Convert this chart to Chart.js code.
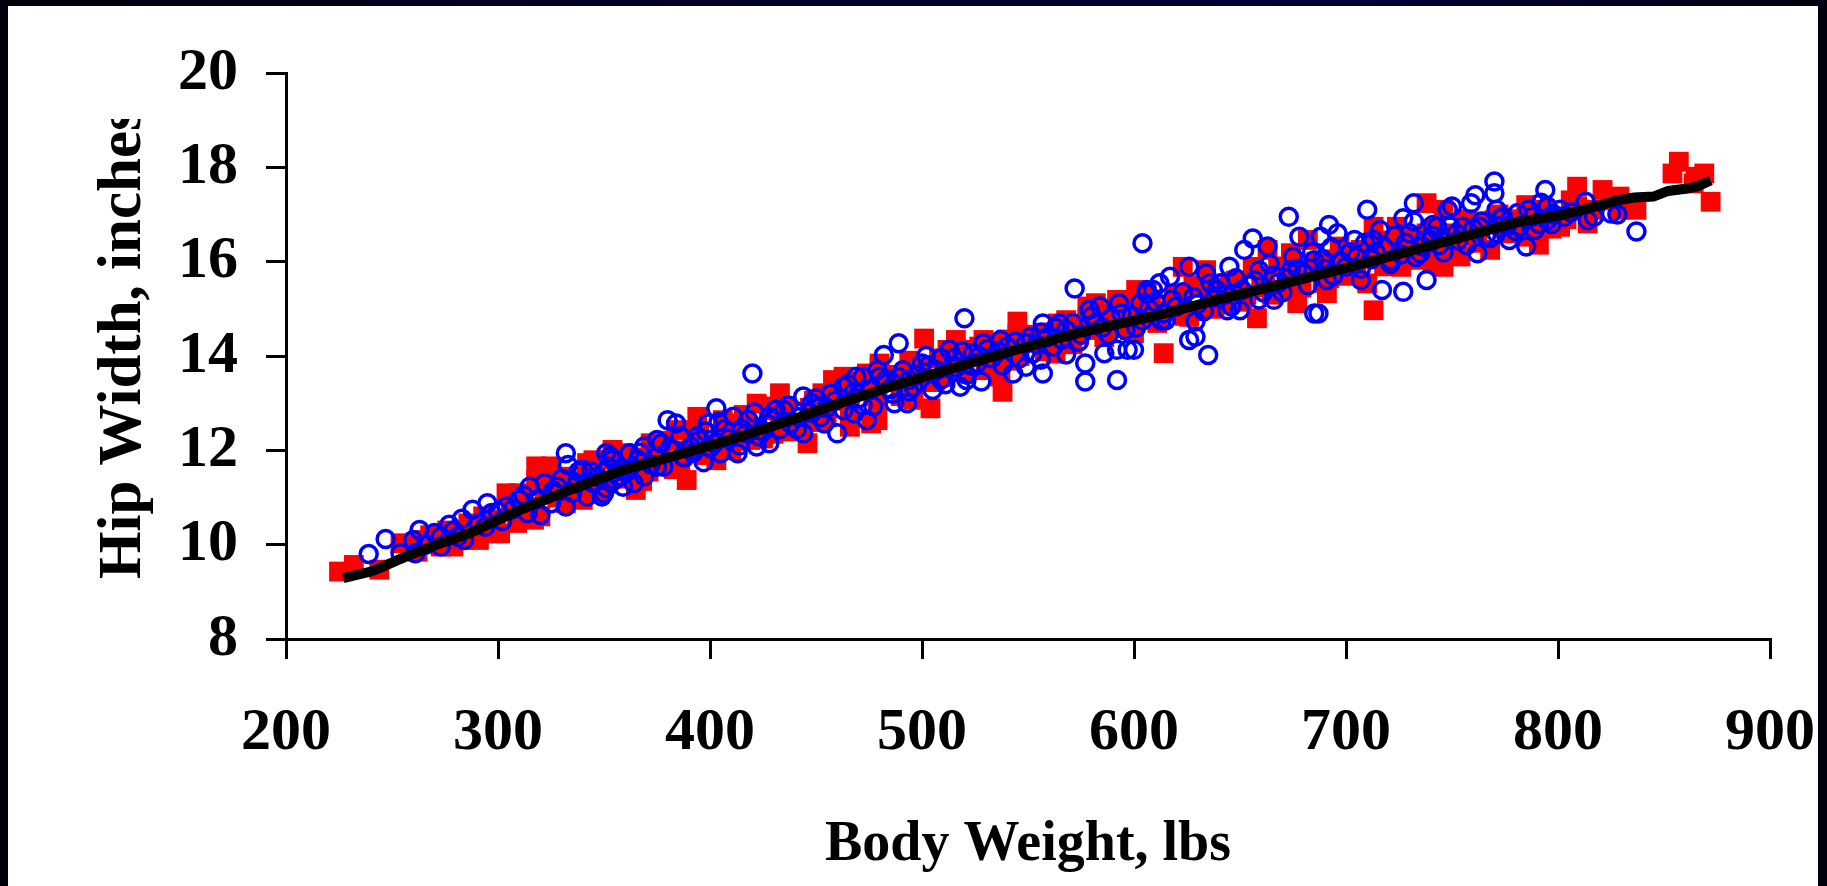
<!DOCTYPE html>
<html>
<head>
<meta charset="utf-8">
<title>Hip Width vs Body Weight</title>
<script src="https://cdn.jsdelivr.net/npm/chart.js@4.4.0/dist/chart.umd.min.js"></script>
<style>
  html, body { margin: 0; padding: 0; }
  body {
    width: 1827px; height: 886px; overflow: hidden; position: relative;
    background: linear-gradient(90deg, #02020e 0%, #00002a 40%, #00003c 75%, #00000e 100%);
  }
  #frame { position: absolute; left: 8px; top: 6px; width: 1810px; height: 880px; background: #fff; }
  canvas { display: block; }
</style>
</head>
<body>
<div id="frame"><canvas id="hipChart" width="1810" height="880"></canvas></div>
<script>
// ---------------------------------------------------------
// DATA (body weight lbs, hip width inches)
// ---------------------------------------------------------
const xTitle = 'Body Weight, lbs';
const yTitle = 'Hip Width, inches';
const xTicks = [200, 300, 400, 500, 600, 700, 800, 900];
const yTicks = [8, 10, 12, 14, 16, 18, 20];

// red filled squares
const redSquares = [
  [225,9.43],[232,9.57],[244,9.47],[254,10.03],[263,10.1],[273,9.96],[279,9.96],[284,10.1],[288,10.24],
  [291,10.1],[298,10.24],[299,10.53],[301,10.24],[304,11.09],[309,10.46],[310,11.09],[317,10.53],
  [318,11.66],[318,11.37],[320,10.6],[325,11.66],[325,11.37],[331,11.44],[332,10.88],[340,10.95],
  [342,11.73],[351,11.8],[354,12.01],
  [345,11.79],[359,11.94],[365,11.16],[372,12.15],[384,12.43],[389,11.37],[392,12.43],[394,12.71],
  [403,11.79],[406,12.64],[414,12.57],[419,12.22],[422,12.99],[431,12.93],[433,13.21],[441,12.57],
  [446,12.15],[453,13.21],[458,13.49],[463,13.56],[466,12.5],[472,13.35],[476,12.57],[479,12.64],[480,13.84],
  [474,13.63],[480,13.77],[494,13.9],[496,13.07],[501,14.37],[504,12.89],[512,14.13],[516,14.34],
  [523,14.13],[529,14.34],[537,13.56],[538,13.24],[545,14.73],[545,14.48],[564,14.69],[568,14.76],
  [578,15.05],[582,15.12],[592,15.19],[600,14.48],[601,15.4],[606,15.33],
  [614,14.06],[623,15.89],[626,14.83],[634,15.82],[656,15.89],[658,14.8],[663,16.25],[674,16.18],
  [677,15.12],[682,16.46],[691,15.33],[697,16.32],[704,15.82],[710,15.54],[713,14.97],[713,16.74],
  [724,16.74],[726,15.89],[732,16.04],[738,17.24],[738,16.6],[741,15.96],
  [738,16.39],[744,16.32],[746,17.1],[746,15.89],[748,16.53],[754,16.11],[759,16.81],[768,16.25],
  [770,16.88],[785,17.2],[785,16.53],[788,16.81],[791,16.36],[801,16.74],[809,17.59],[809,17.17],
  [814,16.81],[821,17.52],[829,17.38],[829,17.1],[837,17.1],[854,17.87],[857,18.12],[864,17.66],
  [865,17.8],[869,17.87],[872,17.27],
  [342,11.45],[348,11.1],[356,11.7],[362,11.4],[371,11.55],[377,11.95],[386,11.75],[392,12.1],
  [398,11.9],[405,12.3],[410,12.0],[419,12.5],[425,12.25],[433,12.7],[438,12.4],[447,12.9],
  [452,12.6],[461,13.15],[466,12.85],[474,13.4],[479,13.05],[488,13.6],[493,13.25],[500,13.8],
  [506,13.45],[514,14.0],[519,13.65],[527,14.2],[532,13.85],[540,14.35],[546,14.0],[552,14.45],
  [558,14.1],[566,14.6],[571,14.25],[578,14.8],[586,14.4],[593,14.95],[598,14.55],[605,15.1],
  [611,14.7],[619,15.3],[624,14.85],[632,15.45],[638,15.0],[645,15.55],[651,15.15],[660,15.7],
  [665,15.3],[672,15.85],[679,15.45],[686,16.0],[692,15.65],[699,16.15],[705,15.75],[712,16.35],
  [718,15.9],[726,16.5],[732,16.05],[740,16.7],[748,16.25],[756,16.9],[762,16.4],[772,17.0],
  [778,16.6],[793,17.1],[797,16.7],
  [262,9.85],[268,10.2],[276,10.3],[286,10.45],[293,10.6],[306,10.85],[313,10.8],[322,11.15],
  [328,11.0],[336,11.35],[339,11.05],[346,11.6],[352,11.3],[358,11.75],[364,11.85],[368,11.35],
  [375,11.75],[380,12.2],[383,11.6],[389,12.0],[395,12.35],[401,12.0],[408,12.55],[412,12.2],
  [416,12.75],[421,12.4],[428,12.85],[430,12.35],[436,12.9],[443,12.55],[449,13.05],[455,12.7],
  [459,13.3],[464,13.05],[469,13.45],[477,13.15],[484,13.5],[490,13.15],[497,13.65],[502,13.45],
  [508,13.95],[511,13.55],[517,13.85],[524,14.0],[530,13.7],[535,14.25],[541,13.9],[549,14.3],
  [555,14.35],[561,14.5],[563,14.05],[569,14.6],[574,14.45],[581,14.55],[584,14.9],[590,14.6],
  [596,15.05],[603,14.8],[608,15.2],[616,14.95],[621,15.1],[628,15.5],[630,14.95],[636,15.35],
  [642,15.1],[648,15.6],[653,15.3],[662,15.45],[668,15.9],[670,15.4],[676,15.7],[683,15.9],
  [689,15.55],[694,16.05],[701,15.7],[707,16.25],[715,16.1],[720,16.45],[728,16.2],[735,16.55],
  [742,16.15],[750,16.6],[752,16.35],[758,16.55],[765,16.85],[774,16.7],[781,16.9],[787,16.55],
  [796,16.95],[804,16.9],[806,17.3],[817,17.1],[825,17.3],[833,17.2]
];

// blue open circles
const blueCircles = [
  [239,9.8],[247,10.12],[254,9.82],[261,9.82],[260,10.1],[263,10.31],[273,9.96],[273,10.17],[277,10.42],
  [281,10.17],[284,10.1],[288,10.74],[295,10.88],[297,10.67],[294,10.38],[304,10.81],[310,10.95],
  [315,11.23],[314,10.67],[320,10.63],[325,10.88],[328,11.23],[332,11.94],[333,11.69],[332,10.81],
  [340,11.59],[342,11.02],[349,11.02],[351,11.94],[354,11.8],[355,11.37],[350,11.55],
  [347,11.44],[353,11.87],[350,11.09],[359,11.23],[364,11.3],[362,11.94],[369,12.08],[375,12.22],
  [378,11.65],[380,12.64],[384,12.57],[387,11.87],[391,12.08],[395,12.22],[399,12.57],[403,12.89],
  [405,11.94],[411,12.71],[413,11.94],[417,12.36],[422,12.08],[420,13.63],[428,12.71],[431,12.86],
  [428,12.15],[438,12.57],[444,13.14],[444,12.36],[452,12.93],[454,12.57],[460,12.36],[463,13.35],
  [469,13.56],[468,12.78],[474,12.64],[482,14.02],[480,13.56],[477,12.93],
  [472,13.56],[489,14.27],[487,13.0],[493,13.0],[494,13.49],[500,13.84],[505,13.28],[509,13.95],
  [513,14.13],[520,14.8],[518,13.35],[521,13.49],[528,13.46],[524,14.06],[529,14.27],[537,14.34],
  [543,13.63],[549,13.77],[549,14.27],[557,14.69],[557,13.63],[556,13.92],[565,14.69],[568,14.03],
  [572,15.43],[577,13.84],[577,13.46],[592,13.49],[579,14.98],[584,15.05],[586,14.06],[592,14.13],
  [597,14.13],[600,14.13],[593,15.12],[603,15.12],[606,15.4],[604,16.39],[609,15.4],
  [606,15.33],[612,15.54],[615,14.76],[617,15.68],[626,15.89],[629,14.73],[626,14.34],[629,14.41],
  [635,14.02],[634,15.75],[641,15.54],[644,14.97],[645,15.89],[650,14.97],[652,16.25],[656,16.49],
  [659,15.82],[663,16.32],[666,15.19],[673,16.95],[674,15.82],[678,16.53],[685,16.03],[685,14.9],
  [687,14.9],[688,16.53],[692,16.78],[696,16.6],[691,15.61],[700,15.89],[704,16.46],[707,15.61],
  [710,17.1],[713,16.46],[716,16.67],[717,15.4],[721,16.03],[727,15.36],[727,16.92],[732,17.24],
  [732,16.85],[738,15.61],[741,16.78],[735,16.18],
  [743,16.74],[748,17.1],[750,17.17],[759,17.24],[761,17.41],[770,17.7],[770,17.45],[762,16.18],
  [755,16.74],[763,16.74],[773,16.92],[771,16.6],[777,16.46],[781,17.03],[785,16.32],[789,16.67],
  [794,17.52],[795,17.17],[795,16.88],[803,16.95],[813,17.27],[814,16.88],[825,17.02],[837,16.64],
  [736,16.32],[740,16.46],
  [337,11.3],[344,11.55],[351,11.2],[358,11.45],[366,11.8],[369,11.45],[375,11.65],[381,12.05],
  [388,11.85],[394,12.3],[397,11.75],[402,12.15],[407,12.45],[414,12.1],[418,12.65],[423,12.3],
  [427,12.55],[435,12.85],[441,12.45],[448,13.0],[452,12.7],[457,13.2],[463,12.85],[468,13.25],
  [472,12.95],[483,13.5],[486,13.2],[491,13.7],[496,13.35],[503,13.8],[509,13.5],[515,13.95],
  [521,13.6],[526,13.85],[531,14.15],[538,13.8],[544,14.3],[552,14.05],[556,14.5],[562,14.2],
  [568,14.55],[574,14.3],[582,14.7],[588,14.45],[594,14.9],[601,14.6],[607,15.0],[613,14.75],
  [618,15.2],[628,15.25],[633,14.95],[639,15.4],[646,15.05],[654,15.5],[659,15.2],[666,15.7],
  [670,15.35],[677,15.85],[682,15.5],[689,16.05],[694,15.7],[702,16.2],[707,15.85],[714,16.2],
  [721,15.95],[728,16.4],[733,16.1],[741,16.55],[746,16.2],[752,16.6],[757,16.35],[764,16.85],
  [768,16.5],[774,16.95],[780,16.65],[786,17.1],[791,16.8],[798,17.0],
  [266,10.0],[270,10.25],[279,10.3],[283,10.55],[291,10.45],[300,10.7],[302,10.5],[307,10.75],
  [312,11.05],[318,10.95],[322,11.3],[326,11.15],[330,11.4],[335,11.1],[338,11.55],[345,11.3],
  [352,11.65],[357,11.6],[361,11.55],[367,11.95],[372,11.7],[377,12.15],[383,12.0],[386,12.3],
  [392,11.95],[398,12.4],[400,12.05],[404,12.6],[409,12.25],[415,12.45],[421,12.8],[425,12.4],
  [430,12.65],[433,12.45],[437,12.95],[442,12.7],[447,12.8],[450,13.1],[455,12.9],[459,13.05],
  [465,13.4],[470,13.1],[476,13.3],[479,13.7],[485,13.3],[489,13.55],[494,13.25],[498,13.6],
  [502,14.0],[507,13.7],[511,13.4],[516,13.75],[519,14.1],[523,13.8],[527,14.0],[533,13.95],
  [536,14.1],[540,14.2],[546,13.95],[551,14.4],[554,14.25],[559,14.4],[563,14.6],[566,14.35],
  [571,14.7],[575,14.45],[580,14.85],[585,14.6],[589,14.8],[596,14.55],[599,14.85],[604,14.75],
  [610,15.15],[614,14.9],[620,15.05],[623,15.35],[630,15.1],[636,15.55],[638,15.25],[643,15.3],
  [648,15.65],[651,15.4],[657,15.6],[661,15.35],[664,15.95],[668,15.55],[672,15.65],[675,16.1],
  [680,15.75],[684,16.2],[690,15.85],[693,16.3],[698,16.0],[705,16.1],[709,16.4],[712,16.05],
  [718,16.3],[723,16.55],[726,16.15],[730,16.6],[737,16.45],[744,16.35],[749,16.75],[753,16.45],
  [760,16.7],[766,16.55],[771,17.1],[776,16.75],[782,16.75],[788,16.95],[792,17.25],[797,16.8],
  [801,17.1],[806,17.05],[817,16.95],[828,17.0]
];

// black trend line
const trendLine = [
  [227,9.29],[240,9.43],[245,9.52],[255,9.72],[270,9.98],[287,10.25],[310,10.73],[334,11.16],
  [357,11.55],[390,11.97],[415,12.3],[438,12.64],[460,12.98],[485,13.35],[510,13.68],[541,14.09],
  [575,14.5],[612,14.87],[640,15.2],[674,15.57],[710,15.98],[744,16.39],[782,16.85],[802,16.99],
  [812,17.1],[820,17.2],[828,17.3],[836,17.36],[845,17.38],[852,17.5],[861,17.55],[866,17.6],[872,17.72]
];

const FONT = '"Liberation Serif", "Times New Roman", serif';
const toXY = pts => pts.map(([x, y]) => ({ x, y }));

// axis titles drawn by hand so the y title can be cut off at the top like the original
const axisTitles = {
    id: 'axisTitles',
    afterDraw(chart) {
        const { ctx, chartArea } = chart;
        ctx.save();
        ctx.fillStyle = '#000';
        ctx.font = `bold 56px ${FONT}`;
        ctx.textAlign = 'center';
        ctx.textBaseline = 'alphabetic';
        ctx.fillText(xTitle, (chartArea.left + chartArea.right) / 2, 854);

        ctx.beginPath();
        ctx.rect(0, 113, 260, chart.height);
        ctx.clip();
        ctx.translate(132, 573);
        ctx.rotate(-Math.PI / 2);
        ctx.font = `bold 61px ${FONT}`;
        ctx.textAlign = 'left';
        ctx.fillText(yTitle, 0, 0);
        ctx.restore();
    }
};

const tickFont = { family: FONT, size: 60, weight: 'bold' };

new Chart(document.getElementById('hipChart'), {
    type: 'scatter',
    data: {
        datasets: [
            {
                type: 'line',
                data: toXY(trendLine),
                borderColor: '#000',
                borderWidth: 10,
                pointRadius: 0,
                fill: false,
                tension: 0
            },
            {
                data: toXY(blueCircles),
                pointStyle: 'circle',
                pointRadius: 8.5,
                borderWidth: 3.5,
                borderColor: '#0000ff',
                backgroundColor: 'rgba(0,0,0,0)'
            },
            {
                data: toXY(redSquares),
                pointStyle: 'rect',
                pointRadius: 14,
                borderWidth: 0,
                backgroundColor: '#ff0000'
            }
        ]
    },
    options: {
        responsive: false,
        animation: false,
        events: [],
        devicePixelRatio: 1,
        layout: { padding: { top: 67, right: 48, left: 0, bottom: 0 } },
        plugins: { legend: { display: false }, tooltip: { enabled: false } },
        scales: {
            x: {
                type: 'linear',
                min: 200,
                max: 900,
                afterBuildTicks: s => { s.ticks = xTicks.map(v => ({ value: v })); },
                afterFit: s => { s.height = 247; s.paddingLeft = 0; s.paddingRight = 0; },
                grid: { drawOnChartArea: false, color: '#000', lineWidth: 3, tickLength: 20 },
                border: { color: '#000', width: 3 },
                ticks: { color: '#000', padding: 38, maxRotation: 0, autoSkip: false, font: tickFont }
            },
            y: {
                type: 'linear',
                min: 8,
                max: 20,
                afterBuildTicks: s => { s.ticks = yTicks.map(v => ({ value: v })); },
                afterFit: s => { s.width = 278; s.paddingTop = 0; s.paddingBottom = 0; },
                grid: { drawOnChartArea: false, color: '#000', lineWidth: 3, tickLength: 20 },
                border: { color: '#000', width: 3 },
                ticks: { color: '#000', padding: 28, autoSkip: false, font: tickFont }
            }
        }
    },
    plugins: [axisTitles]
});
</script>
</body>
</html>
